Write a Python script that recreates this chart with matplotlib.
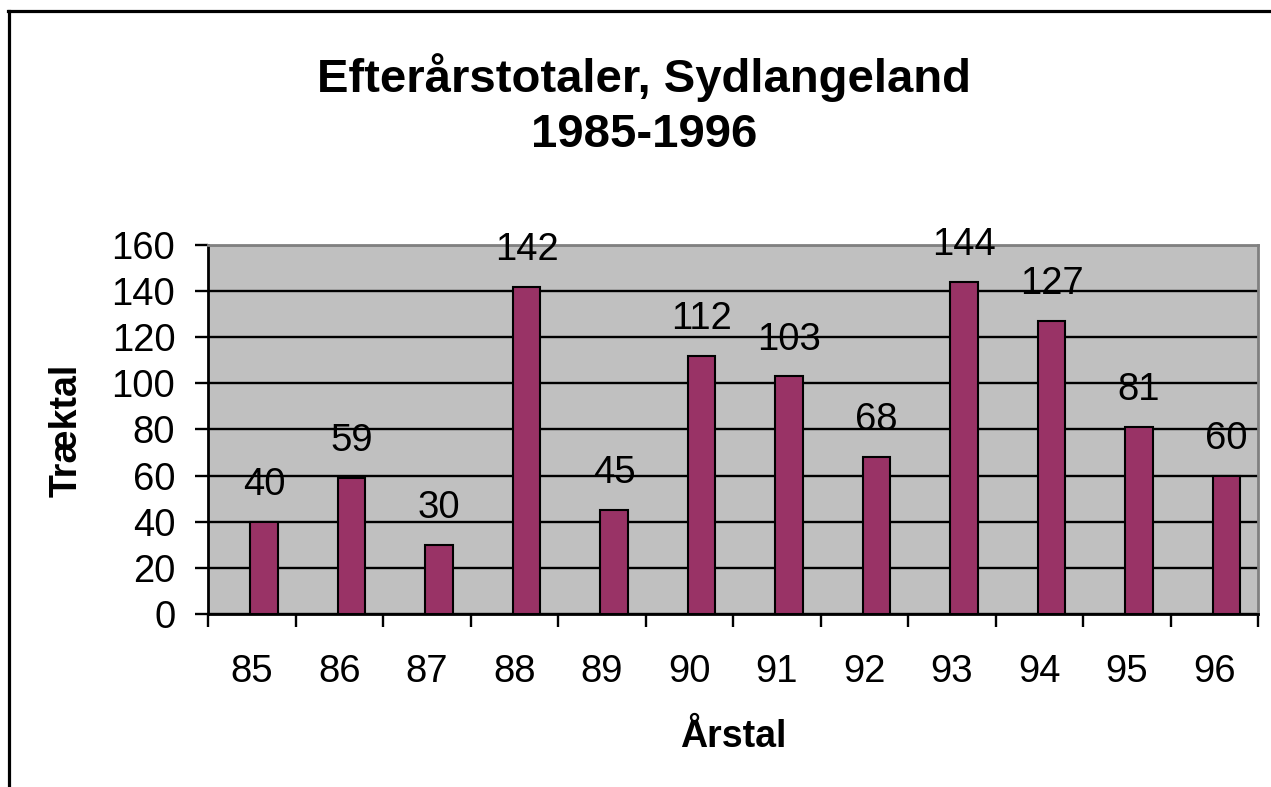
import numpy as np
import matplotlib
matplotlib.use("Agg")
import matplotlib.pyplot as plt
from matplotlib.lines import Line2D

# data
years = ["85", "86", "87", "88", "89", "90", "91", "92", "93", "94", "95", "96"]
counts = [40, 59, 30, 142, 45, 112, 103, 68, 144, 127, 81, 60]
yticks = [0, 20, 40, 60, 80, 100, 120, 140, 160]

plt.rcParams['font.family'] = ['Liberation Sans', 'DejaVu Sans']

fig = plt.figure(figsize=(12.71, 7.87), dpi=100)
ax = fig.add_axes([208/1271, 1 - 614/787, 1050/1271, 369/787])

x = np.arange(len(years))
ax.set_facecolor('#C0C0C0')
ax.bar(x + 0.14, counts, width=0.31, color='#993366', edgecolor='black',
       linewidth=1.5, zorder=3)

# value labels
for xi, v in zip(x, counts):
    ax.annotate(str(v), (xi + 0.14, v), xytext=(0, 26.5), textcoords='offset points',
                ha='center', va='center', fontsize=27.5, zorder=4)

ax.set_xlim(-0.5, len(years) - 0.5)
ax.set_ylim(0, 160)
ax.set_yticks(yticks)
ax.set_yticklabels([str(t) for t in yticks], fontsize=27.5)
ax.yaxis.grid(True, color='black', linewidth=1.7, zorder=1)
ax.set_axisbelow(True)

ax.set_xticks(x)
ax.set_xticklabels(years, fontsize=27.5)
ax.set_xticks(np.arange(-0.5, len(years)), minor=True)
ax.tick_params(axis='x', which='major', length=0, pad=29)
ax.tick_params(axis='x', which='minor', length=9.5, width=1.7, direction='out')
ax.tick_params(axis='y', length=9.5, width=1.7, direction='out', pad=14)

for s in ['left', 'bottom']:
    ax.spines[s].set_color('black')
    ax.spines[s].set_linewidth(2)
for s in ['top', 'right']:
    ax.spines[s].set_color('#808080')
    ax.spines[s].set_linewidth(2)

# titles
fig.text(644/1271, 1 - 105/787, "Efterårstotaler, Sydlangeland\n1985-1996",
         ha='center', va='center', fontsize=34, fontweight='bold', linespacing=1.32)
fig.text(67/1271, 1 - 430/787, "Træktal", rotation=90, ha='center', va='center',
         fontsize=27, fontweight='bold')
fig.text(733/1271, 1 - 737/787, "Årstal", ha='center', va='center',
         fontsize=27, fontweight='bold')

# frame (left and top edges of chart area)
fig.add_artist(Line2D([9/1271, 9/1271], [0, 1 - 11/787], transform=fig.transFigure,
                      color='black', linewidth=2.3))
fig.add_artist(Line2D([8/1271, 1], [1 - 11/787, 1 - 11/787], transform=fig.transFigure,
                      color='black', linewidth=2.3))

fig.savefig("out.png", dpi=100)
